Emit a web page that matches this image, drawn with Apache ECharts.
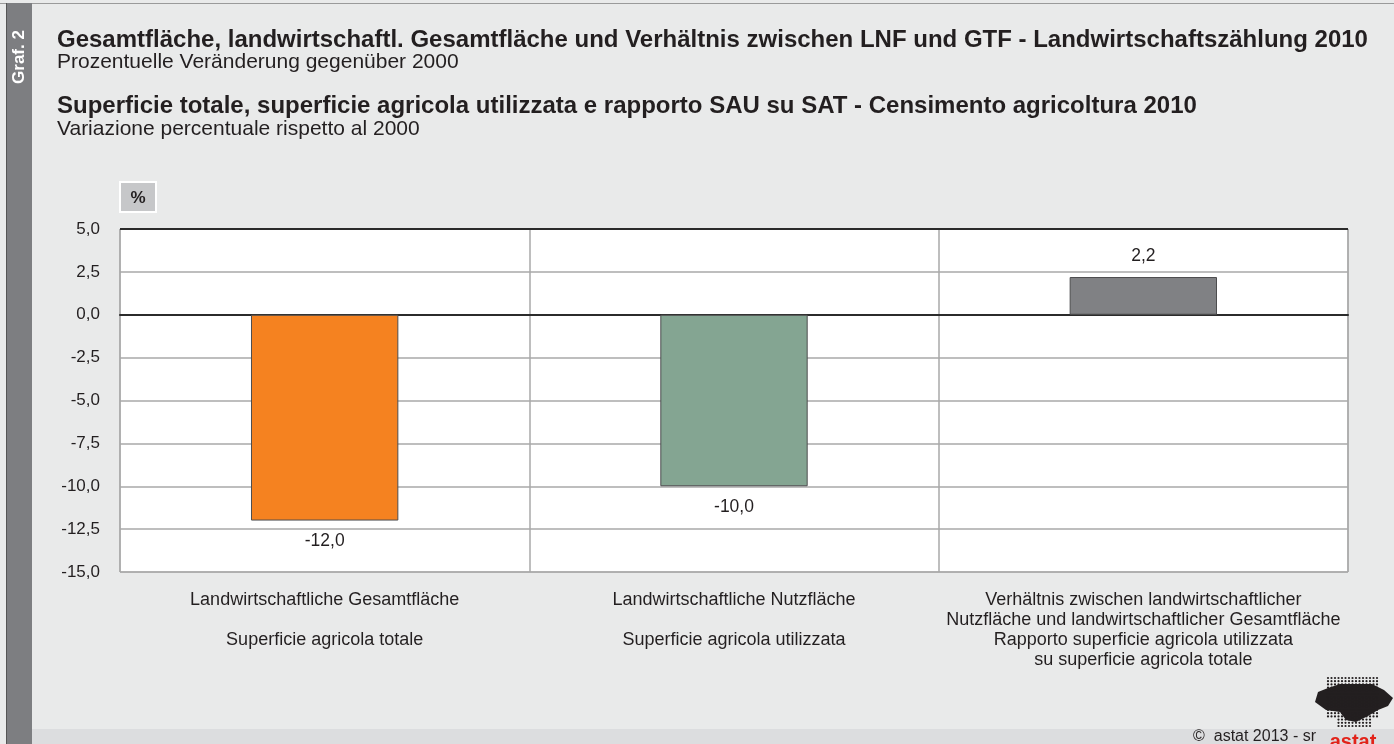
<!DOCTYPE html>
<html>
<head>
<meta charset="utf-8">
<script src="https://cdn.jsdelivr.net/npm/echarts@6/dist/echarts.min.js"></script>
<style>
  html, body { margin: 0; padding: 0; background: #e9eaea; }
  #main { width: 1394px; height: 744px; }
</style>
</head>
<body>
<div id="main"></div>
<script>
// Data
var categories = [
	'Landwirtschaftliche Gesamtfläche\n\nSuperficie agricola totale',
	'Landwirtschaftliche Nutzfläche\n\nSuperficie agricola utilizzata',
	'Verhältnis zwischen landwirtschaftlicher\nNutzfläche und landwirtschaftlicher Gesamtfläche\nRapporto superficie agricola utilizzata\nsu superficie agricola totale'
];
var values = [-12.0, -10.0, 2.2];
var barColors = ['#f58220', '#84a592', '#808184'];
var yMin = -15, yMax = 5, yStep = 2.5;

var fontFam = '"Liberation Sans", Arial, sans-serif';
var txt = '#231f20';

function comma(v, d) {
	return v.toFixed(d).replace('.', ',');
}

var myChart = echarts.init(document.getElementById('main'));

// logo dots (decoration only)
var logoDots = [];
for (var r = 0; r < 16; r++) {
	for (var c = 0; c < 15; c++) {
		var dx = 1328 + c * 3.5, dy = 678 + r * 3.2;
		if (r > 12 && (c < 3 || c > 12)) continue;
		logoDots.push({
			type: 'circle', silent: true,
			shape: { cx: dx, cy: dy, r: 1.1 },
			style: { fill: '#231f20' }
		});
	}
}

var option = {
	backgroundColor: '#e9eaea',
	textStyle: { fontFamily: fontFam },
	grid: {
		left: 120,
		right: 46,
		top: 229,
		bottom: 172,
		show: true,
		backgroundColor: '#fff',
		borderColor: '#999',
		borderWidth: 1
	},
	xAxis: {
		type: 'category',
		data: categories,
		axisTick: { show: false },
		axisLine: {
			onZero: true,
			lineStyle: { color: '#2b2b2b', width: 2 }
		},
		splitLine: {
			show: true,
			interval: 0,
			lineStyle: { color: '#a8a8a8', width: 1.5 }
		},
		axisLabel: {
			interval: 0,
			color: txt,
			fontSize: 18,
			lineHeight: 20,
			margin: 18,
			fontFamily: fontFam
		}
	},
	yAxis: {
		type: 'value',
		min: yMin,
		max: yMax,
		interval: yStep,
		axisLine: { show: false },
		axisTick: { show: false },
		splitLine: {
			lineStyle: { color: '#a8a8a8', width: 1.5 }
		},
		axisLabel: {
			color: txt,
			fontSize: 17,
			margin: 20,
			fontFamily: fontFam,
			formatter: function (v) { return comma(v, 1); }
		}
	},
	series: [{
		type: 'bar',
		barWidth: '36%',
		data: values.map(function (v, i) {
			return {
				value: v,
				itemStyle: { color: barColors[i] },
				label: { position: v < 0 ? 'bottom' : 'top' }
			};
		}),
		itemStyle: {
			borderColor: '#4d4d4f',
			borderWidth: 1
		},
		label: {
			show: true,
			color: txt,
			fontSize: 17.5,
			distance: 12,
			fontFamily: fontFam,
			formatter: function (p) { return comma(p.value, 1); }
		},
		markLine: {
			silent: true,
			symbol: 'none',
			label: { show: false },
			lineStyle: { color: '#2b2b2b', width: 2, type: 'solid' },
			data: [{ yAxis: yMax }]
		},
		animation: false
	}],
	graphic: [
		// page frame
		{ type: 'rect', shape: { x: 0, y: 3, width: 1394, height: 1 }, style: { fill: '#9a9a9a' }, silent: true },
		{ type: 'rect', shape: { x: 6, y: 3, width: 26, height: 741 }, style: { fill: '#7d7e81' }, silent: true },
		{ type: 'rect', shape: { x: 6, y: 3, width: 1, height: 741 }, style: { fill: '#555' }, silent: true },
		{ type: 'rect', shape: { x: 32, y: 729, width: 1362, height: 15 }, style: { fill: '#dcdddf' }, silent: true },
		{
			type: 'text', x: 19, y: 57, rotation: Math.PI / 2,
			style: { text: 'Graf. 2', fill: '#fff', font: 'bold 17px ' + fontFam, align: 'center', verticalAlign: 'middle' }
		},
		// titles
		{ type: 'text', x: 57, y: 40, style: { text: 'Gesamtfläche, landwirtschaftl. Gesamtfläche und Verhältnis zwischen LNF und GTF - Landwirtschaftszählung 2010', fill: txt, font: 'bold 24px ' + fontFam, verticalAlign: 'middle' } },
		{ type: 'text', x: 57, y: 62, style: { text: 'Prozentuelle Veränderung gegenüber 2000', fill: txt, font: '21px ' + fontFam, verticalAlign: 'middle' } },
		{ type: 'text', x: 57, y: 106, style: { text: 'Superficie totale, superficie agricola utilizzata e rapporto SAU su SAT - Censimento agricoltura 2010', fill: txt, font: 'bold 24px ' + fontFam, verticalAlign: 'middle' } },
		{ type: 'text', x: 57, y: 129, style: { text: 'Variazione percentuale rispetto al 2000', fill: txt, font: '21px ' + fontFam, verticalAlign: 'middle' } },
		// unit box
		{ type: 'rect', shape: { x: 120, y: 182, width: 36, height: 30 }, style: { fill: '#c6c7c9', stroke: '#fff', lineWidth: 2 }, silent: true },
		{ type: 'text', x: 138, y: 198, style: { text: '%', fill: txt, font: 'bold 17px ' + fontFam, align: 'center', verticalAlign: 'middle' } },
		// footer / logo
		{ type: 'text', x: 1316, y: 737, style: { text: '©  astat 2013 - sr', fill: txt, font: '16px ' + fontFam, align: 'right', verticalAlign: 'middle' } },
		{
			type: 'polygon',
			shape: { points: [[1318, 692], [1328, 688], [1340, 684], [1372, 684], [1384, 690], [1393, 698], [1388, 706], [1378, 710], [1368, 716], [1356, 722], [1346, 720], [1340, 712], [1326, 710], [1315, 702]] },
			style: { fill: '#231f20' },
			silent: true
		},
		{ type: 'text', x: 1353, y: 742, style: { text: 'astat', fill: '#e2231a', font: 'bold 20px ' + fontFam, align: 'center', verticalAlign: 'middle' } }
	].concat(logoDots)
};

myChart.setOption(option);
</script>
</body>
</html>
